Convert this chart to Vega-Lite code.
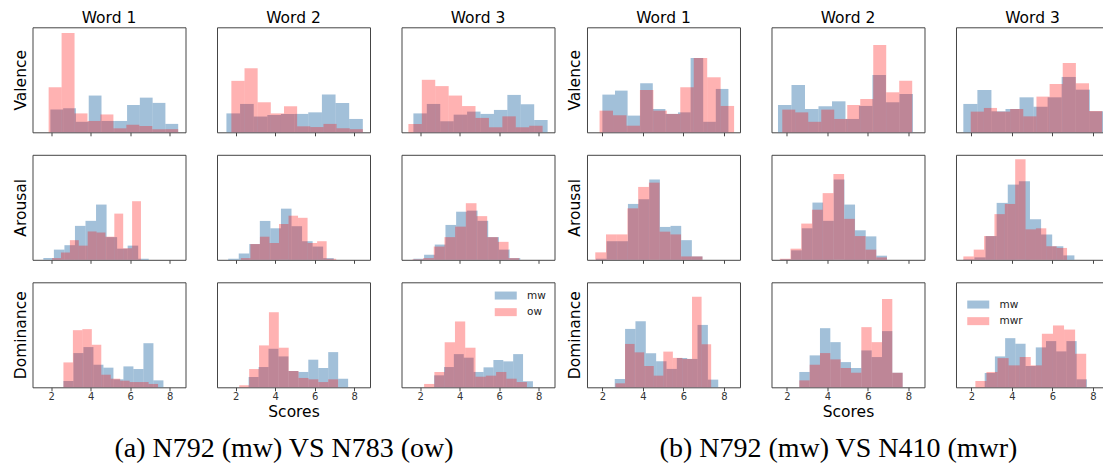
{
"$schema": "https://vega.github.io/schema/vega-lite/v6.json",
"padding": {"left": 12.5, "top": 10.3, "right": 0, "bottom": 0},
"background": "white",
"datasets": {"h": [
{"g":"a","w":1,"d":"V","s":"mw","x0":1.964,"x1":2.611,"y":21.6},{"g":"a","w":1,"d":"V","s":"mw","x0":2.611,"x1":3.257,"y":22.9},{"g":"a","w":1,"d":"V","s":"mw","x0":3.257,"x1":3.904,"y":10},{"g":"a","w":1,"d":"V","s":"mw","x0":3.904,"x1":4.55,"y":35},{"g":"a","w":1,"d":"V","s":"mw","x0":4.55,"x1":5.197,"y":10.8},{"g":"a","w":1,"d":"V","s":"mw","x0":5.197,"x1":5.844,"y":10.8},{"g":"a","w":1,"d":"V","s":"mw","x0":5.844,"x1":6.49,"y":26},{"g":"a","w":1,"d":"V","s":"mw","x0":6.49,"x1":7.137,"y":33},{"g":"a","w":1,"d":"V","s":"mw","x0":7.137,"x1":7.783,"y":28},{"g":"a","w":1,"d":"V","s":"mw","x0":7.783,"x1":8.43,"y":8},
{"g":"a","w":2,"d":"V","s":"mw","x0":1.537,"x1":2.227,"y":18},{"g":"a","w":2,"d":"V","s":"mw","x0":2.227,"x1":2.917,"y":27},{"g":"a","w":2,"d":"V","s":"mw","x0":2.917,"x1":3.607,"y":15},{"g":"a","w":2,"d":"V","s":"mw","x0":3.607,"x1":4.297,"y":16.5},{"g":"a","w":2,"d":"V","s":"mw","x0":4.297,"x1":4.987,"y":17.5},{"g":"a","w":2,"d":"V","s":"mw","x0":4.987,"x1":5.677,"y":17.5},{"g":"a","w":2,"d":"V","s":"mw","x0":5.677,"x1":6.367,"y":19},{"g":"a","w":2,"d":"V","s":"mw","x0":6.367,"x1":7.057,"y":36},{"g":"a","w":2,"d":"V","s":"mw","x0":7.057,"x1":7.747,"y":28},{"g":"a","w":2,"d":"V","s":"mw","x0":7.747,"x1":8.437,"y":12.7},
{"g":"a","w":3,"d":"V","s":"mw","x0":1.662,"x1":2.341,"y":18},{"g":"a","w":3,"d":"V","s":"mw","x0":2.341,"x1":3.02,"y":27},{"g":"a","w":3,"d":"V","s":"mw","x0":3.02,"x1":3.699,"y":10.5},{"g":"a","w":3,"d":"V","s":"mw","x0":3.699,"x1":4.378,"y":16.8},{"g":"a","w":3,"d":"V","s":"mw","x0":4.378,"x1":5.057,"y":19.7},{"g":"a","w":3,"d":"V","s":"mw","x0":5.057,"x1":5.736,"y":17.5},{"g":"a","w":3,"d":"V","s":"mw","x0":5.736,"x1":6.415,"y":21.3},{"g":"a","w":3,"d":"V","s":"mw","x0":6.415,"x1":7.094,"y":35.6},{"g":"a","w":3,"d":"V","s":"mw","x0":7.094,"x1":7.773,"y":26.7},{"g":"a","w":3,"d":"V","s":"mw","x0":7.773,"x1":8.452,"y":11.7},
{"g":"a","w":1,"d":"A","s":"mw","x0":1.609,"x1":2.142,"y":1.6},{"g":"a","w":1,"d":"A","s":"mw","x0":2.142,"x1":2.675,"y":9.7},{"g":"a","w":1,"d":"A","s":"mw","x0":2.675,"x1":3.208,"y":13.9},{"g":"a","w":1,"d":"A","s":"mw","x0":3.208,"x1":3.741,"y":32.3},{"g":"a","w":1,"d":"A","s":"mw","x0":3.741,"x1":4.274,"y":37.1},{"g":"a","w":1,"d":"A","s":"mw","x0":4.274,"x1":4.807,"y":52.6},{"g":"a","w":1,"d":"A","s":"mw","x0":4.807,"x1":5.34,"y":21.6},{"g":"a","w":1,"d":"A","s":"mw","x0":5.34,"x1":5.873,"y":10.6},{"g":"a","w":1,"d":"A","s":"mw","x0":5.873,"x1":6.406,"y":13.5},{"g":"a","w":1,"d":"A","s":"mw","x0":6.406,"x1":6.939,"y":1},
{"g":"a","w":2,"d":"A","s":"mw","x0":1.626,"x1":2.16,"y":1},{"g":"a","w":2,"d":"A","s":"mw","x0":2.16,"x1":2.694,"y":6},{"g":"a","w":2,"d":"A","s":"mw","x0":2.694,"x1":3.227,"y":15},{"g":"a","w":2,"d":"A","s":"mw","x0":3.227,"x1":3.761,"y":37},{"g":"a","w":2,"d":"A","s":"mw","x0":3.761,"x1":4.295,"y":30},{"g":"a","w":2,"d":"A","s":"mw","x0":4.295,"x1":4.829,"y":48.7},{"g":"a","w":2,"d":"A","s":"mw","x0":4.829,"x1":5.363,"y":32},{"g":"a","w":2,"d":"A","s":"mw","x0":5.363,"x1":5.897,"y":17.7},{"g":"a","w":2,"d":"A","s":"mw","x0":5.897,"x1":6.43,"y":12.6},{"g":"a","w":2,"d":"A","s":"mw","x0":6.43,"x1":6.964,"y":1.6},
{"g":"a","w":3,"d":"A","s":"mw","x0":1.662,"x1":2.203,"y":1},{"g":"a","w":3,"d":"A","s":"mw","x0":2.203,"x1":2.743,"y":4.8},{"g":"a","w":3,"d":"A","s":"mw","x0":2.743,"x1":3.284,"y":14.5},{"g":"a","w":3,"d":"A","s":"mw","x0":3.284,"x1":3.824,"y":33.2},{"g":"a","w":3,"d":"A","s":"mw","x0":3.824,"x1":4.365,"y":45.8},{"g":"a","w":3,"d":"A","s":"mw","x0":4.365,"x1":4.905,"y":46.8},{"g":"a","w":3,"d":"A","s":"mw","x0":4.905,"x1":5.446,"y":37.1},{"g":"a","w":3,"d":"A","s":"mw","x0":5.446,"x1":5.986,"y":21.6},{"g":"a","w":3,"d":"A","s":"mw","x0":5.986,"x1":6.527,"y":9.7},{"g":"a","w":3,"d":"A","s":"mw","x0":6.527,"x1":7.067,"y":1.6},
{"g":"a","w":1,"d":"D","s":"mw","x0":2.624,"x1":3.13,"y":6},{"g":"a","w":1,"d":"D","s":"mw","x0":3.13,"x1":3.636,"y":32.6},{"g":"a","w":1,"d":"D","s":"mw","x0":3.636,"x1":4.142,"y":38.3},{"g":"a","w":1,"d":"D","s":"mw","x0":4.142,"x1":4.648,"y":21.5},{"g":"a","w":1,"d":"D","s":"mw","x0":4.648,"x1":5.154,"y":18.7},{"g":"a","w":1,"d":"D","s":"mw","x0":5.154,"x1":5.659,"y":7.6},{"g":"a","w":1,"d":"D","s":"mw","x0":5.659,"x1":6.165,"y":19.9},{"g":"a","w":1,"d":"D","s":"mw","x0":6.165,"x1":6.671,"y":17.4},{"g":"a","w":1,"d":"D","s":"mw","x0":6.671,"x1":7.177,"y":42},{"g":"a","w":1,"d":"D","s":"mw","x0":7.177,"x1":7.683,"y":6.6},
{"g":"a","w":2,"d":"D","s":"mw","x0":2.659,"x1":3.162,"y":9.8},{"g":"a","w":2,"d":"D","s":"mw","x0":3.162,"x1":3.666,"y":19.3},{"g":"a","w":2,"d":"D","s":"mw","x0":3.666,"x1":4.169,"y":36.7},{"g":"a","w":2,"d":"D","s":"mw","x0":4.169,"x1":4.673,"y":29.4},{"g":"a","w":2,"d":"D","s":"mw","x0":4.673,"x1":5.176,"y":15.5},{"g":"a","w":2,"d":"D","s":"mw","x0":5.176,"x1":5.679,"y":14.6},{"g":"a","w":2,"d":"D","s":"mw","x0":5.679,"x1":6.183,"y":26.3},{"g":"a","w":2,"d":"D","s":"mw","x0":6.183,"x1":6.686,"y":18.4},{"g":"a","w":2,"d":"D","s":"mw","x0":6.686,"x1":7.19,"y":33.5},{"g":"a","w":2,"d":"D","s":"mw","x0":7.19,"x1":7.693,"y":8.2},
{"g":"a","w":3,"d":"D","s":"mw","x0":2.709,"x1":3.209,"y":11.4},{"g":"a","w":3,"d":"D","s":"mw","x0":3.209,"x1":3.709,"y":19.3},{"g":"a","w":3,"d":"D","s":"mw","x0":3.709,"x1":4.209,"y":31.6},{"g":"a","w":3,"d":"D","s":"mw","x0":4.209,"x1":4.709,"y":28.2},{"g":"a","w":3,"d":"D","s":"mw","x0":4.709,"x1":5.209,"y":14.6},{"g":"a","w":3,"d":"D","s":"mw","x0":5.209,"x1":5.709,"y":19},{"g":"a","w":3,"d":"D","s":"mw","x0":5.709,"x1":6.209,"y":26},{"g":"a","w":3,"d":"D","s":"mw","x0":6.209,"x1":6.709,"y":24.7},{"g":"a","w":3,"d":"D","s":"mw","x0":6.709,"x1":7.209,"y":31.6},{"g":"a","w":3,"d":"D","s":"mw","x0":7.209,"x1":7.709,"y":5.7},
{"g":"b","w":1,"d":"V","s":"mw","x0":2.0,"x1":2.623,"y":35.9},{"g":"b","w":1,"d":"V","s":"mw","x0":2.623,"x1":3.246,"y":39.7},{"g":"b","w":1,"d":"V","s":"mw","x0":3.246,"x1":3.868,"y":15.9},{"g":"b","w":1,"d":"V","s":"mw","x0":3.868,"x1":4.491,"y":46.7},{"g":"b","w":1,"d":"V","s":"mw","x0":4.491,"x1":5.114,"y":22.2},{"g":"b","w":1,"d":"V","s":"mw","x0":5.114,"x1":5.737,"y":17.5},{"g":"b","w":1,"d":"V","s":"mw","x0":5.737,"x1":6.36,"y":19},{"g":"b","w":1,"d":"V","s":"mw","x0":6.36,"x1":6.982,"y":70.8},{"g":"b","w":1,"d":"V","s":"mw","x0":6.982,"x1":7.605,"y":10},{"g":"b","w":1,"d":"V","s":"mw","x0":7.605,"x1":8.228,"y":41.3},
{"g":"b","w":2,"d":"V","s":"mw","x0":1.561,"x1":2.228,"y":26},{"g":"b","w":2,"d":"V","s":"mw","x0":2.228,"x1":2.895,"y":45.1},{"g":"b","w":2,"d":"V","s":"mw","x0":2.895,"x1":3.561,"y":22.2},{"g":"b","w":2,"d":"V","s":"mw","x0":3.561,"x1":4.228,"y":24.8},{"g":"b","w":2,"d":"V","s":"mw","x0":4.228,"x1":4.895,"y":29.5},{"g":"b","w":2,"d":"V","s":"mw","x0":4.895,"x1":5.561,"y":12.7},{"g":"b","w":2,"d":"V","s":"mw","x0":5.561,"x1":6.228,"y":25.1},{"g":"b","w":2,"d":"V","s":"mw","x0":6.228,"x1":6.895,"y":54.6},{"g":"b","w":2,"d":"V","s":"mw","x0":6.895,"x1":7.561,"y":28.6},{"g":"b","w":2,"d":"V","s":"mw","x0":7.561,"x1":8.228,"y":36.5},
{"g":"b","w":3,"d":"V","s":"mw","x0":1.603,"x1":2.297,"y":27},{"g":"b","w":3,"d":"V","s":"mw","x0":2.297,"x1":2.991,"y":40.3},{"g":"b","w":3,"d":"V","s":"mw","x0":2.991,"x1":3.686,"y":20},{"g":"b","w":3,"d":"V","s":"mw","x0":3.686,"x1":4.38,"y":22.2},{"g":"b","w":3,"d":"V","s":"mw","x0":4.38,"x1":5.074,"y":33.3},{"g":"b","w":3,"d":"V","s":"mw","x0":5.074,"x1":5.768,"y":24.4},{"g":"b","w":3,"d":"V","s":"mw","x0":5.768,"x1":6.462,"y":33.3},{"g":"b","w":3,"d":"V","s":"mw","x0":6.462,"x1":7.157,"y":52.7},{"g":"b","w":3,"d":"V","s":"mw","x0":7.157,"x1":7.851,"y":40.6},{"g":"b","w":3,"d":"V","s":"mw","x0":7.851,"x1":8.545,"y":20},
{"g":"b","w":1,"d":"A","s":"mw","x0":1.684,"x1":2.21,"y":1},{"g":"b","w":1,"d":"A","s":"mw","x0":2.21,"x1":2.737,"y":17.7},{"g":"b","w":1,"d":"A","s":"mw","x0":2.737,"x1":3.263,"y":17.7},{"g":"b","w":1,"d":"A","s":"mw","x0":3.263,"x1":3.789,"y":53.2},{"g":"b","w":1,"d":"A","s":"mw","x0":3.789,"x1":4.316,"y":57.7},{"g":"b","w":1,"d":"A","s":"mw","x0":4.316,"x1":4.842,"y":76.5},{"g":"b","w":1,"d":"A","s":"mw","x0":4.842,"x1":5.368,"y":31.3},{"g":"b","w":1,"d":"A","s":"mw","x0":5.368,"x1":5.895,"y":32.3},{"g":"b","w":1,"d":"A","s":"mw","x0":5.895,"x1":6.421,"y":18.7},{"g":"b","w":1,"d":"A","s":"mw","x0":6.421,"x1":6.947,"y":3.2},
{"g":"b","w":2,"d":"A","s":"mw","x0":1.684,"x1":2.21,"y":0.6},{"g":"b","w":2,"d":"A","s":"mw","x0":2.21,"x1":2.737,"y":9},{"g":"b","w":2,"d":"A","s":"mw","x0":2.737,"x1":3.263,"y":30},{"g":"b","w":2,"d":"A","s":"mw","x0":3.263,"x1":3.789,"y":54.5},{"g":"b","w":2,"d":"A","s":"mw","x0":3.789,"x1":4.316,"y":37.1},{"g":"b","w":2,"d":"A","s":"mw","x0":4.316,"x1":4.842,"y":76.5},{"g":"b","w":2,"d":"A","s":"mw","x0":4.842,"x1":5.368,"y":52.6},{"g":"b","w":2,"d":"A","s":"mw","x0":5.368,"x1":5.895,"y":28.1},{"g":"b","w":2,"d":"A","s":"mw","x0":5.895,"x1":6.421,"y":22.3},{"g":"b","w":2,"d":"A","s":"mw","x0":6.421,"x1":6.947,"y":3.9},
{"g":"b","w":3,"d":"A","s":"mw","x0":1.603,"x1":2.152,"y":0.5},{"g":"b","w":3,"d":"A","s":"mw","x0":2.152,"x1":2.7,"y":2.3},{"g":"b","w":3,"d":"A","s":"mw","x0":2.7,"x1":3.249,"y":22.6},{"g":"b","w":3,"d":"A","s":"mw","x0":3.249,"x1":3.798,"y":54.2},{"g":"b","w":3,"d":"A","s":"mw","x0":3.798,"x1":4.347,"y":71.6},{"g":"b","w":3,"d":"A","s":"mw","x0":4.347,"x1":4.895,"y":74.8},{"g":"b","w":3,"d":"A","s":"mw","x0":4.895,"x1":5.444,"y":38.7},{"g":"b","w":3,"d":"A","s":"mw","x0":5.444,"x1":5.993,"y":24.2},{"g":"b","w":3,"d":"A","s":"mw","x0":5.993,"x1":6.542,"y":12.9},{"g":"b","w":3,"d":"A","s":"mw","x0":6.542,"x1":7.091,"y":4.2},
{"g":"b","w":1,"d":"D","s":"mw","x0":2.611,"x1":3.122,"y":7.9},{"g":"b","w":1,"d":"D","s":"mw","x0":3.122,"x1":3.634,"y":55.6},{"g":"b","w":1,"d":"D","s":"mw","x0":3.634,"x1":4.145,"y":62.9},{"g":"b","w":1,"d":"D","s":"mw","x0":4.145,"x1":4.656,"y":32.4},{"g":"b","w":1,"d":"D","s":"mw","x0":4.656,"x1":5.168,"y":24.8},{"g":"b","w":1,"d":"D","s":"mw","x0":5.168,"x1":5.679,"y":17.5},{"g":"b","w":1,"d":"D","s":"mw","x0":5.679,"x1":6.19,"y":27.9},{"g":"b","w":1,"d":"D","s":"mw","x0":6.19,"x1":6.701,"y":27},{"g":"b","w":1,"d":"D","s":"mw","x0":6.701,"x1":7.213,"y":59.4},{"g":"b","w":1,"d":"D","s":"mw","x0":7.213,"x1":7.724,"y":7.3},
{"g":"b","w":2,"d":"D","s":"mw","x0":2.614,"x1":3.125,"y":14.6},{"g":"b","w":2,"d":"D","s":"mw","x0":3.125,"x1":3.635,"y":30.4},{"g":"b","w":2,"d":"D","s":"mw","x0":3.635,"x1":4.146,"y":56.3},{"g":"b","w":2,"d":"D","s":"mw","x0":4.146,"x1":4.657,"y":43},{"g":"b","w":2,"d":"D","s":"mw","x0":4.657,"x1":5.167,"y":24},{"g":"b","w":2,"d":"D","s":"mw","x0":5.167,"x1":5.678,"y":18.4},{"g":"b","w":2,"d":"D","s":"mw","x0":5.678,"x1":6.189,"y":35.1},{"g":"b","w":2,"d":"D","s":"mw","x0":6.189,"x1":6.7,"y":28.8},{"g":"b","w":2,"d":"D","s":"mw","x0":6.7,"x1":7.21,"y":53.5},{"g":"b","w":2,"d":"D","s":"mw","x0":7.21,"x1":7.721,"y":13.9},
{"g":"b","w":3,"d":"D","s":"mw","x0":2.658,"x1":3.163,"y":13.6},{"g":"b","w":3,"d":"D","s":"mw","x0":3.163,"x1":3.668,"y":29.4},{"g":"b","w":3,"d":"D","s":"mw","x0":3.668,"x1":4.173,"y":46.8},{"g":"b","w":3,"d":"D","s":"mw","x0":4.173,"x1":4.678,"y":41.5},{"g":"b","w":3,"d":"D","s":"mw","x0":4.678,"x1":5.183,"y":20.3},{"g":"b","w":3,"d":"D","s":"mw","x0":5.183,"x1":5.687,"y":38},{"g":"b","w":3,"d":"D","s":"mw","x0":5.687,"x1":6.192,"y":44},{"g":"b","w":3,"d":"D","s":"mw","x0":6.192,"x1":6.697,"y":34.2},{"g":"b","w":3,"d":"D","s":"mw","x0":6.697,"x1":7.202,"y":44},{"g":"b","w":3,"d":"D","s":"mw","x0":7.202,"x1":7.707,"y":7.6},
{"g":"a","w":1,"d":"V","s":"ow","x0":1.876,"x1":2.531,"y":43},{"g":"a","w":1,"d":"V","s":"ow","x0":2.531,"x1":3.187,"y":94.6},{"g":"a","w":1,"d":"V","s":"ow","x0":3.187,"x1":3.842,"y":18},{"g":"a","w":1,"d":"V","s":"ow","x0":3.842,"x1":4.498,"y":10.8},{"g":"a","w":1,"d":"V","s":"ow","x0":4.498,"x1":5.153,"y":17},{"g":"a","w":1,"d":"V","s":"ow","x0":5.153,"x1":5.808,"y":3.8},{"g":"a","w":1,"d":"V","s":"ow","x0":5.808,"x1":6.464,"y":7.3},{"g":"a","w":1,"d":"V","s":"ow","x0":6.464,"x1":7.119,"y":6},{"g":"a","w":1,"d":"V","s":"ow","x0":7.119,"x1":7.775,"y":3},{"g":"a","w":1,"d":"V","s":"ow","x0":7.775,"x1":8.43,"y":3},
{"g":"a","w":2,"d":"V","s":"ow","x0":1.786,"x1":2.452,"y":49},{"g":"a","w":2,"d":"V","s":"ow","x0":2.452,"x1":3.117,"y":61},{"g":"a","w":2,"d":"V","s":"ow","x0":3.117,"x1":3.783,"y":28.6},{"g":"a","w":2,"d":"V","s":"ow","x0":3.783,"x1":4.448,"y":18},{"g":"a","w":2,"d":"V","s":"ow","x0":4.448,"x1":5.114,"y":24.8},{"g":"a","w":2,"d":"V","s":"ow","x0":5.114,"x1":5.779,"y":5.7},{"g":"a","w":2,"d":"V","s":"ow","x0":5.779,"x1":6.445,"y":5},{"g":"a","w":2,"d":"V","s":"ow","x0":6.445,"x1":7.11,"y":8},{"g":"a","w":2,"d":"V","s":"ow","x0":7.11,"x1":7.776,"y":3.8},{"g":"a","w":2,"d":"V","s":"ow","x0":7.776,"x1":8.441,"y":3},
{"g":"a","w":3,"d":"V","s":"ow","x0":1.409,"x1":2.088,"y":7.9},{"g":"a","w":3,"d":"V","s":"ow","x0":2.088,"x1":2.767,"y":50},{"g":"a","w":3,"d":"V","s":"ow","x0":2.767,"x1":3.446,"y":44},{"g":"a","w":3,"d":"V","s":"ow","x0":3.446,"x1":4.125,"y":35},{"g":"a","w":3,"d":"V","s":"ow","x0":4.125,"x1":4.804,"y":25},{"g":"a","w":3,"d":"V","s":"ow","x0":4.804,"x1":5.483,"y":13.7},{"g":"a","w":3,"d":"V","s":"ow","x0":5.483,"x1":6.162,"y":4.8},{"g":"a","w":3,"d":"V","s":"ow","x0":6.162,"x1":6.841,"y":15.2},{"g":"a","w":3,"d":"V","s":"ow","x0":6.841,"x1":7.52,"y":4.8},{"g":"a","w":3,"d":"V","s":"ow","x0":7.52,"x1":8.199,"y":6.3},
{"g":"a","w":1,"d":"A","s":"ow","x0":2.053,"x1":2.502,"y":1.6},{"g":"a","w":1,"d":"A","s":"ow","x0":2.502,"x1":2.952,"y":7},{"g":"a","w":1,"d":"A","s":"ow","x0":2.952,"x1":3.401,"y":18.7},{"g":"a","w":1,"d":"A","s":"ow","x0":3.401,"x1":3.851,"y":13.5},{"g":"a","w":1,"d":"A","s":"ow","x0":3.851,"x1":4.3,"y":27},{"g":"a","w":1,"d":"A","s":"ow","x0":4.3,"x1":4.749,"y":26},{"g":"a","w":1,"d":"A","s":"ow","x0":4.749,"x1":5.199,"y":22},{"g":"a","w":1,"d":"A","s":"ow","x0":5.199,"x1":5.648,"y":44},{"g":"a","w":1,"d":"A","s":"ow","x0":5.648,"x1":6.098,"y":11},{"g":"a","w":1,"d":"A","s":"ow","x0":6.098,"x1":6.547,"y":55.8},
{"g":"a","w":2,"d":"A","s":"ow","x0":2.267,"x1":2.749,"y":1.6},{"g":"a","w":2,"d":"A","s":"ow","x0":2.749,"x1":3.231,"y":15},{"g":"a","w":2,"d":"A","s":"ow","x0":3.231,"x1":3.714,"y":22},{"g":"a","w":2,"d":"A","s":"ow","x0":3.714,"x1":4.196,"y":16},{"g":"a","w":2,"d":"A","s":"ow","x0":4.196,"x1":4.678,"y":34},{"g":"a","w":2,"d":"A","s":"ow","x0":4.678,"x1":5.16,"y":42},{"g":"a","w":2,"d":"A","s":"ow","x0":5.16,"x1":5.642,"y":40},{"g":"a","w":2,"d":"A","s":"ow","x0":5.642,"x1":6.125,"y":16},{"g":"a","w":2,"d":"A","s":"ow","x0":6.125,"x1":6.607,"y":17.7},{"g":"a","w":2,"d":"A","s":"ow","x0":6.607,"x1":7.089,"y":1},
{"g":"a","w":3,"d":"A","s":"ow","x0":1.611,"x1":2.152,"y":0.5},{"g":"a","w":3,"d":"A","s":"ow","x0":2.152,"x1":2.692,"y":1.6},{"g":"a","w":3,"d":"A","s":"ow","x0":2.692,"x1":3.233,"y":12.6},{"g":"a","w":3,"d":"A","s":"ow","x0":3.233,"x1":3.773,"y":21.6},{"g":"a","w":3,"d":"A","s":"ow","x0":3.773,"x1":4.314,"y":31.6},{"g":"a","w":3,"d":"A","s":"ow","x0":4.314,"x1":4.854,"y":53.9},{"g":"a","w":3,"d":"A","s":"ow","x0":4.854,"x1":5.395,"y":41.6},{"g":"a","w":3,"d":"A","s":"ow","x0":5.395,"x1":5.935,"y":21.6},{"g":"a","w":3,"d":"A","s":"ow","x0":5.935,"x1":6.476,"y":17.1},{"g":"a","w":3,"d":"A","s":"ow","x0":6.476,"x1":7.016,"y":1.6},
{"g":"a","w":1,"d":"D","s":"ow","x0":2.624,"x1":3.103,"y":23.7},{"g":"a","w":1,"d":"D","s":"ow","x0":3.103,"x1":3.582,"y":54.4},{"g":"a","w":1,"d":"D","s":"ow","x0":3.582,"x1":4.061,"y":55.4},{"g":"a","w":1,"d":"D","s":"ow","x0":4.061,"x1":4.54,"y":40.5},{"g":"a","w":1,"d":"D","s":"ow","x0":4.54,"x1":5.019,"y":12},{"g":"a","w":1,"d":"D","s":"ow","x0":5.019,"x1":5.497,"y":8.2},{"g":"a","w":1,"d":"D","s":"ow","x0":5.497,"x1":5.976,"y":6.3},{"g":"a","w":1,"d":"D","s":"ow","x0":5.976,"x1":6.455,"y":5},{"g":"a","w":1,"d":"D","s":"ow","x0":6.455,"x1":6.934,"y":5},{"g":"a","w":1,"d":"D","s":"ow","x0":6.934,"x1":7.413,"y":3.2},
{"g":"a","w":2,"d":"D","s":"ow","x0":2.186,"x1":2.686,"y":1.9},{"g":"a","w":2,"d":"D","s":"ow","x0":2.686,"x1":3.186,"y":17.4},{"g":"a","w":2,"d":"D","s":"ow","x0":3.186,"x1":3.686,"y":39.9},{"g":"a","w":2,"d":"D","s":"ow","x0":3.686,"x1":4.186,"y":71.5},{"g":"a","w":2,"d":"D","s":"ow","x0":4.186,"x1":4.686,"y":37.7},{"g":"a","w":2,"d":"D","s":"ow","x0":4.686,"x1":5.186,"y":15.5},{"g":"a","w":2,"d":"D","s":"ow","x0":5.186,"x1":5.686,"y":8.9},{"g":"a","w":2,"d":"D","s":"ow","x0":5.686,"x1":6.186,"y":7.6},{"g":"a","w":2,"d":"D","s":"ow","x0":6.186,"x1":6.686,"y":5},{"g":"a","w":2,"d":"D","s":"ow","x0":6.686,"x1":7.186,"y":7.6},
{"g":"a","w":3,"d":"D","s":"ow","x0":2.203,"x1":2.723,"y":3.2},{"g":"a","w":3,"d":"D","s":"ow","x0":2.723,"x1":3.244,"y":14.6},{"g":"a","w":3,"d":"D","s":"ow","x0":3.244,"x1":3.764,"y":43},{"g":"a","w":3,"d":"D","s":"ow","x0":3.764,"x1":4.284,"y":62.7},{"g":"a","w":3,"d":"D","s":"ow","x0":4.284,"x1":4.805,"y":37.7},{"g":"a","w":3,"d":"D","s":"ow","x0":4.805,"x1":5.325,"y":10.1},{"g":"a","w":3,"d":"D","s":"ow","x0":5.325,"x1":5.845,"y":11.1},{"g":"a","w":3,"d":"D","s":"ow","x0":5.845,"x1":6.365,"y":14.6},{"g":"a","w":3,"d":"D","s":"ow","x0":6.365,"x1":6.886,"y":8.2},{"g":"a","w":3,"d":"D","s":"ow","x0":6.886,"x1":7.406,"y":5},
{"g":"b","w":1,"d":"V","s":"mwr","x0":1.86,"x1":2.525,"y":20.6},{"g":"b","w":1,"d":"V","s":"mwr","x0":2.525,"x1":3.19,"y":16.2},{"g":"b","w":1,"d":"V","s":"mwr","x0":3.19,"x1":3.855,"y":6.3},{"g":"b","w":1,"d":"V","s":"mwr","x0":3.855,"x1":4.52,"y":40.3},{"g":"b","w":1,"d":"V","s":"mwr","x0":4.52,"x1":5.184,"y":20.6},{"g":"b","w":1,"d":"V","s":"mwr","x0":5.184,"x1":5.849,"y":17.5},{"g":"b","w":1,"d":"V","s":"mwr","x0":5.849,"x1":6.514,"y":42.9},{"g":"b","w":1,"d":"V","s":"mwr","x0":6.514,"x1":7.179,"y":70.8},{"g":"b","w":1,"d":"V","s":"mwr","x0":7.179,"x1":7.844,"y":52.4},{"g":"b","w":1,"d":"V","s":"mwr","x0":7.844,"x1":8.509,"y":25.1},
{"g":"b","w":2,"d":"V","s":"mwr","x0":1.772,"x1":2.414,"y":21.6},{"g":"b","w":2,"d":"V","s":"mwr","x0":2.414,"x1":3.056,"y":19},{"g":"b","w":2,"d":"V","s":"mwr","x0":3.056,"x1":3.698,"y":10},{"g":"b","w":2,"d":"V","s":"mwr","x0":3.698,"x1":4.34,"y":21.6},{"g":"b","w":2,"d":"V","s":"mwr","x0":4.34,"x1":4.983,"y":12.7},{"g":"b","w":2,"d":"V","s":"mwr","x0":4.983,"x1":5.625,"y":26},{"g":"b","w":2,"d":"V","s":"mwr","x0":5.625,"x1":6.267,"y":31.7},{"g":"b","w":2,"d":"V","s":"mwr","x0":6.267,"x1":6.909,"y":83.2},{"g":"b","w":2,"d":"V","s":"mwr","x0":6.909,"x1":7.551,"y":38.1},{"g":"b","w":2,"d":"V","s":"mwr","x0":7.551,"x1":8.193,"y":49.2},
{"g":"b","w":3,"d":"V","s":"mwr","x0":1.967,"x1":2.617,"y":19.7},{"g":"b","w":3,"d":"V","s":"mwr","x0":2.617,"x1":3.266,"y":23.2},{"g":"b","w":3,"d":"V","s":"mwr","x0":3.266,"x1":3.916,"y":19.7},{"g":"b","w":3,"d":"V","s":"mwr","x0":3.916,"x1":4.565,"y":22.2},{"g":"b","w":3,"d":"V","s":"mwr","x0":4.565,"x1":5.215,"y":15.2},{"g":"b","w":3,"d":"V","s":"mwr","x0":5.215,"x1":5.865,"y":34},{"g":"b","w":3,"d":"V","s":"mwr","x0":5.865,"x1":6.514,"y":46},{"g":"b","w":3,"d":"V","s":"mwr","x0":6.514,"x1":7.164,"y":66},{"g":"b","w":3,"d":"V","s":"mwr","x0":7.164,"x1":7.813,"y":46.7},{"g":"b","w":3,"d":"V","s":"mwr","x0":7.813,"x1":8.463,"y":20.3},
{"g":"b","w":1,"d":"A","s":"mwr","x0":1.649,"x1":2.179,"y":7.1},{"g":"b","w":1,"d":"A","s":"mwr","x0":2.179,"x1":2.709,"y":24.2},{"g":"b","w":1,"d":"A","s":"mwr","x0":2.709,"x1":3.239,"y":24.2},{"g":"b","w":1,"d":"A","s":"mwr","x0":3.239,"x1":3.768,"y":49},{"g":"b","w":1,"d":"A","s":"mwr","x0":3.768,"x1":4.298,"y":69.4},{"g":"b","w":1,"d":"A","s":"mwr","x0":4.298,"x1":4.828,"y":73.5},{"g":"b","w":1,"d":"A","s":"mwr","x0":4.828,"x1":5.358,"y":26.8},{"g":"b","w":1,"d":"A","s":"mwr","x0":5.358,"x1":5.888,"y":24.2},{"g":"b","w":1,"d":"A","s":"mwr","x0":5.888,"x1":6.417,"y":3.2},{"g":"b","w":1,"d":"A","s":"mwr","x0":6.417,"x1":6.947,"y":3.2},
{"g":"b","w":2,"d":"A","s":"mwr","x0":1.649,"x1":2.179,"y":1},{"g":"b","w":2,"d":"A","s":"mwr","x0":2.179,"x1":2.709,"y":10.6},{"g":"b","w":2,"d":"A","s":"mwr","x0":2.709,"x1":3.239,"y":34.5},{"g":"b","w":2,"d":"A","s":"mwr","x0":3.239,"x1":3.768,"y":47.7},{"g":"b","w":2,"d":"A","s":"mwr","x0":3.768,"x1":4.298,"y":63.5},{"g":"b","w":2,"d":"A","s":"mwr","x0":4.298,"x1":4.828,"y":81.6},{"g":"b","w":2,"d":"A","s":"mwr","x0":4.828,"x1":5.358,"y":39},{"g":"b","w":2,"d":"A","s":"mwr","x0":5.358,"x1":5.888,"y":22.6},{"g":"b","w":2,"d":"A","s":"mwr","x0":5.888,"x1":6.417,"y":9.7},{"g":"b","w":2,"d":"A","s":"mwr","x0":6.417,"x1":6.947,"y":2.3},
{"g":"b","w":3,"d":"A","s":"mwr","x0":1.603,"x1":2.115,"y":3.2},{"g":"b","w":3,"d":"A","s":"mwr","x0":2.115,"x1":2.628,"y":9.7},{"g":"b","w":3,"d":"A","s":"mwr","x0":2.628,"x1":3.14,"y":22.6},{"g":"b","w":3,"d":"A","s":"mwr","x0":3.14,"x1":3.652,"y":43.5},{"g":"b","w":3,"d":"A","s":"mwr","x0":3.652,"x1":4.165,"y":53.2},{"g":"b","w":3,"d":"A","s":"mwr","x0":4.165,"x1":4.677,"y":95.8},{"g":"b","w":3,"d":"A","s":"mwr","x0":4.677,"x1":5.19,"y":29},{"g":"b","w":3,"d":"A","s":"mwr","x0":5.19,"x1":5.702,"y":30},{"g":"b","w":3,"d":"A","s":"mwr","x0":5.702,"x1":6.214,"y":12.9},{"g":"b","w":3,"d":"A","s":"mwr","x0":6.214,"x1":6.727,"y":11.3},
{"g":"b","w":1,"d":"D","s":"mwr","x0":2.646,"x1":3.119,"y":3.8},{"g":"b","w":1,"d":"D","s":"mwr","x0":3.119,"x1":3.592,"y":41.3},{"g":"b","w":1,"d":"D","s":"mwr","x0":3.592,"x1":4.065,"y":33.3},{"g":"b","w":1,"d":"D","s":"mwr","x0":4.065,"x1":4.538,"y":20.3},{"g":"b","w":1,"d":"D","s":"mwr","x0":4.538,"x1":5.011,"y":11.1},{"g":"b","w":1,"d":"D","s":"mwr","x0":5.011,"x1":5.483,"y":34},{"g":"b","w":1,"d":"D","s":"mwr","x0":5.483,"x1":5.956,"y":28},{"g":"b","w":1,"d":"D","s":"mwr","x0":5.956,"x1":6.429,"y":27},{"g":"b","w":1,"d":"D","s":"mwr","x0":6.429,"x1":6.902,"y":86.3},{"g":"b","w":1,"d":"D","s":"mwr","x0":6.902,"x1":7.375,"y":41},
{"g":"b","w":2,"d":"D","s":"mwr","x0":2.614,"x1":3.125,"y":6.6},{"g":"b","w":2,"d":"D","s":"mwr","x0":3.125,"x1":3.635,"y":21.5},{"g":"b","w":2,"d":"D","s":"mwr","x0":3.635,"x1":4.146,"y":32.6},{"g":"b","w":2,"d":"D","s":"mwr","x0":4.146,"x1":4.657,"y":26.6},{"g":"b","w":2,"d":"D","s":"mwr","x0":4.657,"x1":5.167,"y":18.4},{"g":"b","w":2,"d":"D","s":"mwr","x0":5.167,"x1":5.678,"y":13.9},{"g":"b","w":2,"d":"D","s":"mwr","x0":5.678,"x1":6.189,"y":57.3},{"g":"b","w":2,"d":"D","s":"mwr","x0":6.189,"x1":6.7,"y":43},{"g":"b","w":2,"d":"D","s":"mwr","x0":6.7,"x1":7.21,"y":84.2},{"g":"b","w":2,"d":"D","s":"mwr","x0":7.21,"x1":7.721,"y":13.9},
{"g":"b","w":3,"d":"D","s":"mwr","x0":2.197,"x1":2.745,"y":6},{"g":"b","w":3,"d":"D","s":"mwr","x0":2.745,"x1":3.292,"y":14.6},{"g":"b","w":3,"d":"D","s":"mwr","x0":3.292,"x1":3.84,"y":27.8},{"g":"b","w":3,"d":"D","s":"mwr","x0":3.84,"x1":4.388,"y":20.9},{"g":"b","w":3,"d":"D","s":"mwr","x0":4.388,"x1":4.935,"y":28.8},{"g":"b","w":3,"d":"D","s":"mwr","x0":4.935,"x1":5.483,"y":20.9},{"g":"b","w":3,"d":"D","s":"mwr","x0":5.483,"x1":6.031,"y":51},{"g":"b","w":3,"d":"D","s":"mwr","x0":6.031,"x1":6.579,"y":58.9},{"g":"b","w":3,"d":"D","s":"mwr","x0":6.579,"x1":7.126,"y":55},{"g":"b","w":3,"d":"D","s":"mwr","x0":7.126,"x1":7.674,"y":32}
]},
"data": {"name": "h"},
"spacing": 11.5,
"resolve": {"scale": {"x": "independent", "y": "independent", "color": "independent", "opacity": "independent"}, "axis": {"x": "independent", "y": "independent"}, "legend": {"color": "independent", "opacity": "independent"}},
"hconcat": [
{
"title": {"text": "(a) N792 (mw) VS N783 (ow)", "orient": "bottom", "anchor": "middle", "frame": "bounds", "font": "Liberation Serif", "fontSize": 28, "fontWeight": "normal", "color": "#000", "baseline": "top", "offset": 14.6},
"spacing": 16.5,
"resolve": {"scale": {"x": "independent", "y": "independent", "color": "independent", "opacity": "independent"}, "axis": {"x": "independent", "y": "independent"}, "legend": {"color": "independent", "opacity": "independent"}},
"vconcat": [
{"spacing": 29.5, "resolve": {"scale": {"x": "independent", "y": "independent", "color": "independent", "opacity": "independent"}, "axis": {"x": "independent", "y": "independent"}, "legend": {"color": "independent", "opacity": "independent"}},
"hconcat": [
{"width": 153, "height": 105, "title": "Word 1", "transform": [{"filter": "datum.g=='a' && datum.w==1 && datum.d=='V'"}], "mark": "rect",
 "encoding": {"x": {"field": "x0", "type": "quantitative", "scale": {"domain": [1.06, 8.8], "nice": false, "zero": false}, "axis": {"values": [2,4,6,8], "labels": false, "title": null}}, "x2": {"field": "x1"}, "y": {"field": "y", "type": "quantitative", "scale": {"domain": [0, 100], "nice": false}, "axis": {"title": "Valence"}}, "y2": {"datum": 0},
  "color": {"field": "s", "type": "nominal", "scale": {"domain": ["mw","ow"], "range": ["#4682b4","#ff0000"]}, "legend": null}, "opacity": {"field": "s", "type": "nominal", "scale": {"domain": ["mw","ow"], "range": [0.5, 0.3]}, "legend": null}}},
{"width": 153, "height": 105, "title": "Word 2", "transform": [{"filter": "datum.g=='a' && datum.w==2 && datum.d=='V'"}], "mark": "rect",
 "encoding": {"x": {"field": "x0", "type": "quantitative", "scale": {"domain": [1.06, 8.8], "nice": false, "zero": false}, "axis": {"values": [2,4,6,8], "labels": false, "title": null}}, "x2": {"field": "x1"}, "y": {"field": "y", "type": "quantitative", "scale": {"domain": [0, 100], "nice": false}, "axis": null}, "y2": {"datum": 0},
  "color": {"field": "s", "type": "nominal", "scale": {"domain": ["mw","ow"], "range": ["#4682b4","#ff0000"]}, "legend": null}, "opacity": {"field": "s", "type": "nominal", "scale": {"domain": ["mw","ow"], "range": [0.5, 0.3]}, "legend": null}}},
{"width": 153, "height": 105, "title": "Word 3", "transform": [{"filter": "datum.g=='a' && datum.w==3 && datum.d=='V'"}], "mark": "rect",
 "encoding": {"x": {"field": "x0", "type": "quantitative", "scale": {"domain": [1.06, 8.8], "nice": false, "zero": false}, "axis": {"values": [2,4,6,8], "labels": false, "title": null}}, "x2": {"field": "x1"}, "y": {"field": "y", "type": "quantitative", "scale": {"domain": [0, 100], "nice": false}, "axis": null}, "y2": {"datum": 0},
  "color": {"field": "s", "type": "nominal", "scale": {"domain": ["mw","ow"], "range": ["#4682b4","#ff0000"]}, "legend": null}, "opacity": {"field": "s", "type": "nominal", "scale": {"domain": ["mw","ow"], "range": [0.5, 0.3]}, "legend": null}}}
]},
{"spacing": 29.5, "resolve": {"scale": {"x": "independent", "y": "independent", "color": "independent", "opacity": "independent"}, "axis": {"x": "independent", "y": "independent"}, "legend": {"color": "independent", "opacity": "independent"}},
"hconcat": [
{"width": 153, "height": 105, "transform": [{"filter": "datum.g=='a' && datum.w==1 && datum.d=='A'"}], "mark": "rect",
 "encoding": {"x": {"field": "x0", "type": "quantitative", "scale": {"domain": [1.06, 8.8], "nice": false, "zero": false}, "axis": {"values": [2,4,6,8], "labels": false, "title": null}}, "x2": {"field": "x1"}, "y": {"field": "y", "type": "quantitative", "scale": {"domain": [0, 100], "nice": false}, "axis": {"title": "Arousal"}}, "y2": {"datum": 0},
  "color": {"field": "s", "type": "nominal", "scale": {"domain": ["mw","ow"], "range": ["#4682b4","#ff0000"]}, "legend": null}, "opacity": {"field": "s", "type": "nominal", "scale": {"domain": ["mw","ow"], "range": [0.5, 0.3]}, "legend": null}}},
{"width": 153, "height": 105, "transform": [{"filter": "datum.g=='a' && datum.w==2 && datum.d=='A'"}], "mark": "rect",
 "encoding": {"x": {"field": "x0", "type": "quantitative", "scale": {"domain": [1.06, 8.8], "nice": false, "zero": false}, "axis": {"values": [2,4,6,8], "labels": false, "title": null}}, "x2": {"field": "x1"}, "y": {"field": "y", "type": "quantitative", "scale": {"domain": [0, 100], "nice": false}, "axis": null}, "y2": {"datum": 0},
  "color": {"field": "s", "type": "nominal", "scale": {"domain": ["mw","ow"], "range": ["#4682b4","#ff0000"]}, "legend": null}, "opacity": {"field": "s", "type": "nominal", "scale": {"domain": ["mw","ow"], "range": [0.5, 0.3]}, "legend": null}}},
{"width": 153, "height": 105, "transform": [{"filter": "datum.g=='a' && datum.w==3 && datum.d=='A'"}], "mark": "rect",
 "encoding": {"x": {"field": "x0", "type": "quantitative", "scale": {"domain": [1.06, 8.8], "nice": false, "zero": false}, "axis": {"values": [2,4,6,8], "labels": false, "title": null}}, "x2": {"field": "x1"}, "y": {"field": "y", "type": "quantitative", "scale": {"domain": [0, 100], "nice": false}, "axis": null}, "y2": {"datum": 0},
  "color": {"field": "s", "type": "nominal", "scale": {"domain": ["mw","ow"], "range": ["#4682b4","#ff0000"]}, "legend": null}, "opacity": {"field": "s", "type": "nominal", "scale": {"domain": ["mw","ow"], "range": [0.5, 0.3]}, "legend": null}}}
]},
{"spacing": 29.5, "resolve": {"scale": {"x": "independent", "y": "independent", "color": "independent", "opacity": "independent"}, "axis": {"x": "independent", "y": "independent"}, "legend": {"color": "independent", "opacity": "independent"}},
"hconcat": [
{"width": 153, "height": 105, "transform": [{"filter": "datum.g=='a' && datum.w==1 && datum.d=='D'"}], "mark": "rect",
 "encoding": {"x": {"field": "x0", "type": "quantitative", "scale": {"domain": [1.06, 8.8], "nice": false, "zero": false}, "axis": {"values": [2,4,6,8], "title": null}}, "x2": {"field": "x1"}, "y": {"field": "y", "type": "quantitative", "scale": {"domain": [0, 100], "nice": false}, "axis": {"title": "Dominance"}}, "y2": {"datum": 0},
  "color": {"field": "s", "type": "nominal", "scale": {"domain": ["mw","ow"], "range": ["#4682b4","#ff0000"]}, "legend": null}, "opacity": {"field": "s", "type": "nominal", "scale": {"domain": ["mw","ow"], "range": [0.5, 0.3]}, "legend": null}}},
{"width": 153, "height": 105, "transform": [{"filter": "datum.g=='a' && datum.w==2 && datum.d=='D'"}], "mark": "rect",
 "encoding": {"x": {"field": "x0", "type": "quantitative", "scale": {"domain": [1.06, 8.8], "nice": false, "zero": false}, "axis": {"values": [2,4,6,8], "title": "Scores"}}, "x2": {"field": "x1"}, "y": {"field": "y", "type": "quantitative", "scale": {"domain": [0, 100], "nice": false}, "axis": null}, "y2": {"datum": 0},
  "color": {"field": "s", "type": "nominal", "scale": {"domain": ["mw","ow"], "range": ["#4682b4","#ff0000"]}, "legend": null}, "opacity": {"field": "s", "type": "nominal", "scale": {"domain": ["mw","ow"], "range": [0.5, 0.3]}, "legend": null}}},
{"width": 153, "height": 105, "transform": [{"filter": "datum.g=='a' && datum.w==3 && datum.d=='D'"}], "mark": "rect",
 "encoding": {"x": {"field": "x0", "type": "quantitative", "scale": {"domain": [1.06, 8.8], "nice": false, "zero": false}, "axis": {"values": [2,4,6,8], "title": null}}, "x2": {"field": "x1"}, "y": {"field": "y", "type": "quantitative", "scale": {"domain": [0, 100], "nice": false}, "axis": null}, "y2": {"datum": 0},
  "color": {"field": "s", "type": "nominal", "scale": {"domain": ["mw","ow"], "range": ["#4682b4","#ff0000"]}, "legend": {"orient": "top-right", "offset": 8, "title": null, "symbolType": "M-2.2,-0.8H2.2V0.8H-2.2Z", "symbolSize": 100, "symbolStrokeWidth": 0, "labelFont": "DejaVu Sans", "labelFontSize": 10.5, "labelColor": "#222", "labelOffset": 16, "rowPadding": 5.6, "padding": 0}},
  "opacity": {"field": "s", "type": "nominal", "scale": {"domain": ["mw","ow"], "range": [0.5, 0.3]}, "legend": {"orient": "top-right", "offset": 8, "title": null, "symbolType": "M-2.2,-0.8H2.2V0.8H-2.2Z", "symbolSize": 100, "symbolStrokeWidth": 0, "labelFont": "DejaVu Sans", "labelFontSize": 10.5, "labelColor": "#222", "labelOffset": 16, "rowPadding": 5.6, "padding": 0}}}}
]}
]},
{
"title": {"text": "(b) N792 (mw) VS N410 (mwr)", "orient": "bottom", "anchor": "middle", "frame": "bounds", "font": "Liberation Serif", "fontSize": 28, "fontWeight": "normal", "color": "#000", "baseline": "top", "offset": 14.6},
"spacing": 16.5,
"resolve": {"scale": {"x": "independent", "y": "independent", "color": "independent", "opacity": "independent"}, "axis": {"x": "independent", "y": "independent"}, "legend": {"color": "independent", "opacity": "independent"}},
"vconcat": [
{"spacing": 29.5, "resolve": {"scale": {"x": "independent", "y": "independent", "color": "independent", "opacity": "independent"}, "axis": {"x": "independent", "y": "independent"}, "legend": {"color": "independent", "opacity": "independent"}},
"hconcat": [
{"width": 153, "height": 105, "title": "Word 1", "transform": [{"filter": "datum.g=='b' && datum.w==1 && datum.d=='V'"}], "mark": "rect",
 "encoding": {"x": {"field": "x0", "type": "quantitative", "scale": {"domain": [1.24, 8.8], "nice": false, "zero": false}, "axis": {"values": [2,4,6,8], "labels": false, "title": null}}, "x2": {"field": "x1"}, "y": {"field": "y", "type": "quantitative", "scale": {"domain": [0, 100], "nice": false}, "axis": {"title": "Valence"}}, "y2": {"datum": 0},
  "color": {"field": "s", "type": "nominal", "scale": {"domain": ["mw","mwr"], "range": ["#4682b4","#ff0000"]}, "legend": null}, "opacity": {"field": "s", "type": "nominal", "scale": {"domain": ["mw","mwr"], "range": [0.5, 0.3]}, "legend": null}}},
{"width": 153, "height": 105, "title": "Word 2", "transform": [{"filter": "datum.g=='b' && datum.w==2 && datum.d=='V'"}], "mark": "rect",
 "encoding": {"x": {"field": "x0", "type": "quantitative", "scale": {"domain": [1.24, 8.8], "nice": false, "zero": false}, "axis": {"values": [2,4,6,8], "labels": false, "title": null}}, "x2": {"field": "x1"}, "y": {"field": "y", "type": "quantitative", "scale": {"domain": [0, 100], "nice": false}, "axis": null}, "y2": {"datum": 0},
  "color": {"field": "s", "type": "nominal", "scale": {"domain": ["mw","mwr"], "range": ["#4682b4","#ff0000"]}, "legend": null}, "opacity": {"field": "s", "type": "nominal", "scale": {"domain": ["mw","mwr"], "range": [0.5, 0.3]}, "legend": null}}},
{"width": 153, "height": 105, "title": "Word 3", "transform": [{"filter": "datum.g=='b' && datum.w==3 && datum.d=='V'"}], "mark": "rect",
 "encoding": {"x": {"field": "x0", "type": "quantitative", "scale": {"domain": [1.24, 8.8], "nice": false, "zero": false}, "axis": {"values": [2,4,6,8], "labels": false, "title": null}}, "x2": {"field": "x1"}, "y": {"field": "y", "type": "quantitative", "scale": {"domain": [0, 100], "nice": false}, "axis": null}, "y2": {"datum": 0},
  "color": {"field": "s", "type": "nominal", "scale": {"domain": ["mw","mwr"], "range": ["#4682b4","#ff0000"]}, "legend": null}, "opacity": {"field": "s", "type": "nominal", "scale": {"domain": ["mw","mwr"], "range": [0.5, 0.3]}, "legend": null}}}
]},
{"spacing": 29.5, "resolve": {"scale": {"x": "independent", "y": "independent", "color": "independent", "opacity": "independent"}, "axis": {"x": "independent", "y": "independent"}, "legend": {"color": "independent", "opacity": "independent"}},
"hconcat": [
{"width": 153, "height": 105, "transform": [{"filter": "datum.g=='b' && datum.w==1 && datum.d=='A'"}], "mark": "rect",
 "encoding": {"x": {"field": "x0", "type": "quantitative", "scale": {"domain": [1.24, 8.8], "nice": false, "zero": false}, "axis": {"values": [2,4,6,8], "labels": false, "title": null}}, "x2": {"field": "x1"}, "y": {"field": "y", "type": "quantitative", "scale": {"domain": [0, 100], "nice": false}, "axis": {"title": "Arousal"}}, "y2": {"datum": 0},
  "color": {"field": "s", "type": "nominal", "scale": {"domain": ["mw","mwr"], "range": ["#4682b4","#ff0000"]}, "legend": null}, "opacity": {"field": "s", "type": "nominal", "scale": {"domain": ["mw","mwr"], "range": [0.5, 0.3]}, "legend": null}}},
{"width": 153, "height": 105, "transform": [{"filter": "datum.g=='b' && datum.w==2 && datum.d=='A'"}], "mark": "rect",
 "encoding": {"x": {"field": "x0", "type": "quantitative", "scale": {"domain": [1.24, 8.8], "nice": false, "zero": false}, "axis": {"values": [2,4,6,8], "labels": false, "title": null}}, "x2": {"field": "x1"}, "y": {"field": "y", "type": "quantitative", "scale": {"domain": [0, 100], "nice": false}, "axis": null}, "y2": {"datum": 0},
  "color": {"field": "s", "type": "nominal", "scale": {"domain": ["mw","mwr"], "range": ["#4682b4","#ff0000"]}, "legend": null}, "opacity": {"field": "s", "type": "nominal", "scale": {"domain": ["mw","mwr"], "range": [0.5, 0.3]}, "legend": null}}},
{"width": 153, "height": 105, "transform": [{"filter": "datum.g=='b' && datum.w==3 && datum.d=='A'"}], "mark": "rect",
 "encoding": {"x": {"field": "x0", "type": "quantitative", "scale": {"domain": [1.24, 8.8], "nice": false, "zero": false}, "axis": {"values": [2,4,6,8], "labels": false, "title": null}}, "x2": {"field": "x1"}, "y": {"field": "y", "type": "quantitative", "scale": {"domain": [0, 100], "nice": false}, "axis": null}, "y2": {"datum": 0},
  "color": {"field": "s", "type": "nominal", "scale": {"domain": ["mw","mwr"], "range": ["#4682b4","#ff0000"]}, "legend": null}, "opacity": {"field": "s", "type": "nominal", "scale": {"domain": ["mw","mwr"], "range": [0.5, 0.3]}, "legend": null}}}
]},
{"spacing": 29.5, "resolve": {"scale": {"x": "independent", "y": "independent", "color": "independent", "opacity": "independent"}, "axis": {"x": "independent", "y": "independent"}, "legend": {"color": "independent", "opacity": "independent"}},
"hconcat": [
{"width": 153, "height": 105, "transform": [{"filter": "datum.g=='b' && datum.w==1 && datum.d=='D'"}], "mark": "rect",
 "encoding": {"x": {"field": "x0", "type": "quantitative", "scale": {"domain": [1.24, 8.8], "nice": false, "zero": false}, "axis": {"values": [2,4,6,8], "title": null}}, "x2": {"field": "x1"}, "y": {"field": "y", "type": "quantitative", "scale": {"domain": [0, 100], "nice": false}, "axis": {"title": "Dominance"}}, "y2": {"datum": 0},
  "color": {"field": "s", "type": "nominal", "scale": {"domain": ["mw","mwr"], "range": ["#4682b4","#ff0000"]}, "legend": null}, "opacity": {"field": "s", "type": "nominal", "scale": {"domain": ["mw","mwr"], "range": [0.5, 0.3]}, "legend": null}}},
{"width": 153, "height": 105, "transform": [{"filter": "datum.g=='b' && datum.w==2 && datum.d=='D'"}], "mark": "rect",
 "encoding": {"x": {"field": "x0", "type": "quantitative", "scale": {"domain": [1.24, 8.8], "nice": false, "zero": false}, "axis": {"values": [2,4,6,8], "title": "Scores"}}, "x2": {"field": "x1"}, "y": {"field": "y", "type": "quantitative", "scale": {"domain": [0, 100], "nice": false}, "axis": null}, "y2": {"datum": 0},
  "color": {"field": "s", "type": "nominal", "scale": {"domain": ["mw","mwr"], "range": ["#4682b4","#ff0000"]}, "legend": null}, "opacity": {"field": "s", "type": "nominal", "scale": {"domain": ["mw","mwr"], "range": [0.5, 0.3]}, "legend": null}}},
{"width": 153, "height": 105, "transform": [{"filter": "datum.g=='b' && datum.w==3 && datum.d=='D'"}], "mark": "rect",
 "encoding": {"x": {"field": "x0", "type": "quantitative", "scale": {"domain": [1.24, 8.8], "nice": false, "zero": false}, "axis": {"values": [2,4,6,8], "title": null}}, "x2": {"field": "x1"}, "y": {"field": "y", "type": "quantitative", "scale": {"domain": [0, 100], "nice": false}, "axis": null}, "y2": {"datum": 0},
  "color": {"field": "s", "type": "nominal", "scale": {"domain": ["mw","mwr"], "range": ["#4682b4","#ff0000"]}, "legend": {"orient": "top-left", "offset": 17, "title": null, "symbolType": "M-2.2,-0.8H2.2V0.8H-2.2Z", "symbolSize": 100, "symbolStrokeWidth": 0, "labelFont": "DejaVu Sans", "labelFontSize": 10.5, "labelColor": "#222", "labelOffset": 16, "rowPadding": 5.6, "padding": 0}},
  "opacity": {"field": "s", "type": "nominal", "scale": {"domain": ["mw","mwr"], "range": [0.5, 0.3]}, "legend": {"orient": "top-left", "offset": 17, "title": null, "symbolType": "M-2.2,-0.8H2.2V0.8H-2.2Z", "symbolSize": 100, "symbolStrokeWidth": 0, "labelFont": "DejaVu Sans", "labelFontSize": 10.5, "labelColor": "#222", "labelOffset": 16, "rowPadding": 5.6, "padding": 0}}}}
]}
]}
],
"config": {
 "view": {"stroke": "#444", "strokeWidth": 1},
 "axis": {"domain": false, "grid": false, "tickSize": 3.5, "tickColor": "#444", "tickWidth": 1, "labelFont": "DejaVu Sans", "labelFontSize": 10, "labelColor": "#333", "labelPadding": 0.5, "labelFlush": false, "titleFont": "DejaVu Sans", "titleFontSize": 15.5, "titleFontWeight": "normal", "titleColor": "#000"},
 "axisX": {"titlePadding": 3},
 "axisY": {"ticks": false, "labels": false, "titlePadding": 4},
 "title": {"font": "DejaVu Sans", "fontSize": 15.5, "fontWeight": "normal", "color": "#000", "anchor": "middle", "frame": "group", "offset": 0.9, "baseline": "alphabetic"}
}
}
